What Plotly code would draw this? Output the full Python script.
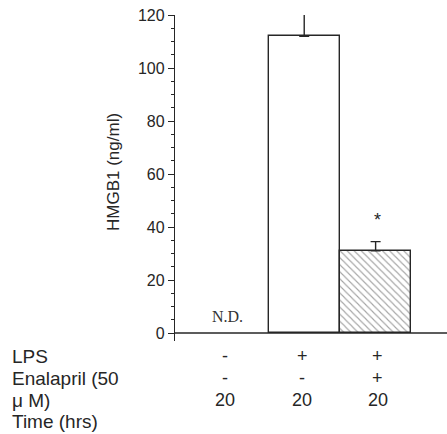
import plotly.graph_objects as go

# Treatment groups (x positions) and measured HMGB1 release
groups = [0, 1, 2]
hmgb1 = [None, 112, 31]
err_up = [0, 8.5, 3.5]
lps = ["-", "+", "+"]
enalapril = ["-", "-", "+"]
time_hrs = ["20", "20", "20"]
row_labels = ["LPS", "Enalapril (50", "\u03bc M)", "Time (hrs)"]
y_ticks = [0, 20, 40, 60, 80, 100, 120]

W, H = 447, 434
L, R, T, B = 175, 0, 15, 93
plot_h = H - T - B
plot_w = W - L - R

ink = "#262626"

fig = go.Figure()

# open bar (LPS alone)
fig.add_trace(go.Bar(
    x=groups[:2], y=hmgb1[:2], width=1.0,
    marker=dict(color="white", line=dict(color=ink, width=1.4)),
    error_y=dict(type="data", symmetric=False, array=err_up[:2],
                 arrayminus=[0, 0], color=ink, thickness=1.4, width=5),
    showlegend=False,
))
# hatched bar (LPS + Enalapril)
fig.add_trace(go.Bar(
    x=groups[2:], y=hmgb1[2:], width=1.0,
    marker=dict(color="white", line=dict(color=ink, width=1.4),
                pattern=dict(shape="\\", size=5, solidity=0.22,
                             fgcolor="#4a4a4a", bgcolor="white")),
    error_y=dict(type="data", symmetric=False, array=err_up[2:],
                 arrayminus=[0], color=ink, thickness=1.4, width=5),
    showlegend=False,
))

fig.update_layout(
    width=W, height=H,
    margin=dict(l=L, r=R, t=T, b=B),
    paper_bgcolor="white", plot_bgcolor="white",
    barmode="overlay",
    font=dict(family="Liberation Sans, Arial, sans-serif", color=ink, size=16),
    xaxis=dict(range=[-0.81, 3.0], showticklabels=False, ticks="",
               showgrid=False, zeroline=False, showline=False),
    yaxis=dict(range=[-3, 120], tickvals=y_ticks, ticks="outside",
               ticklen=6, tickwidth=1.3, tickcolor=ink,
               showgrid=False, zeroline=False, showline=True,
               linecolor=ink, linewidth=1.4, tickfont=dict(size=16),
               minor=dict(dtick=5, ticks="outside", ticklen=3,
                          tickwidth=1.1, tickcolor=ink, showgrid=False)),
    bargap=0,
)

# baseline at zero
fig.add_shape(type="line", xref="paper", yref="y", x0=0, x1=1, y0=0, y1=0,
              line=dict(color=ink, width=1.4))

def py(pix):
    # pixel row -> paper y
    return (H - B - pix) / plot_h

def px(pix):
    # pixel column -> paper x
    return (pix - L) / plot_w

# y-axis title
fig.add_annotation(text="HMGB1 (ng/ml)", xref="paper", yref="paper",
                   x=px(113), y=py(172), textangle=-90,
                   xanchor="center", yanchor="middle",
                   showarrow=False, font=dict(size=17))

# N.D. marker for the control group
fig.add_annotation(text="N.D.", x=groups[0], xshift=-5, yref="paper",
                   y=py(316), xanchor="center", yanchor="middle",
                   showarrow=False,
                   font=dict(family="Liberation Serif, Times New Roman, serif",
                             size=16, color="#333333"))

# significance marker above hatched bar
fig.add_annotation(text="*", x=groups[2], xshift=2, y=hmgb1[2] + err_up[2] + 8,
                   xanchor="center", yanchor="middle",
                   showarrow=False, font=dict(size=18))

# treatment table under the axis
rows_y = [356, 378, 400, 421]
for lab, yy in zip(row_labels, rows_y):
    fig.add_annotation(text=lab, xref="paper", yref="paper",
                       x=px(10), y=py(yy), xanchor="left", yanchor="middle",
                       showarrow=False, font=dict(size=19))
xshifts = [-8, -2, 2]
for vals, yy in zip([lps, enalapril, time_hrs], rows_y[:3]):
    for g, v, xs in zip(groups, vals, xshifts):
        fig.add_annotation(text=v, x=g, xshift=xs, yref="paper", y=py(yy),
                           xanchor="center", yanchor="middle",
                           showarrow=False, font=dict(size=18))

fig.write_html("out.html")
